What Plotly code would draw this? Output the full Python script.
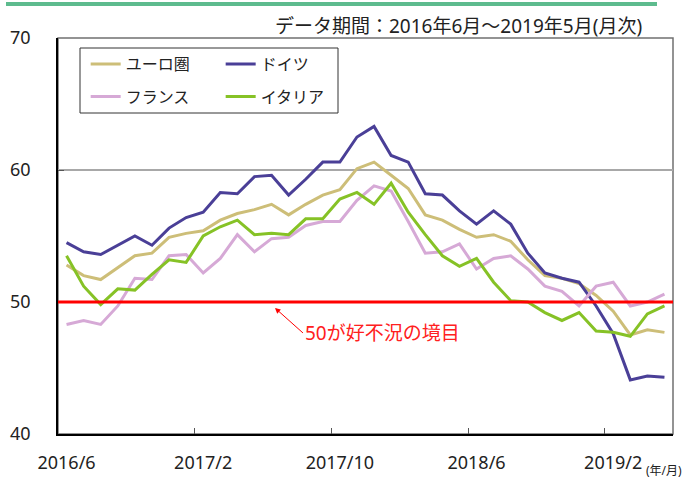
import plotly.graph_objects as go

months = ["2016/6","2016/7","2016/8","2016/9","2016/10","2016/11","2016/12",
          "2017/1","2017/2","2017/3","2017/4","2017/5","2017/6","2017/7","2017/8","2017/9","2017/10","2017/11","2017/12",
          "2018/1","2018/2","2018/3","2018/4","2018/5","2018/6","2018/7","2018/8","2018/9","2018/10","2018/11","2018/12",
          "2019/1","2019/2","2019/3","2019/4","2019/5"]

eurozone = [52.8, 52.0, 51.7, 52.6, 53.5, 53.7, 54.9, 55.2, 55.4, 56.2, 56.7, 57.0,
            57.4, 56.6, 57.4, 58.1, 58.5, 60.1, 60.6, 59.6, 58.6, 56.6, 56.2, 55.5,
            54.9, 55.1, 54.6, 53.2, 52.0, 51.8, 51.4, 50.5, 49.3, 47.5, 47.9, 47.7]
germany = [54.5, 53.8, 53.6, 54.3, 55.0, 54.3, 55.6, 56.4, 56.8, 58.3, 58.2, 59.5,
           59.6, 58.1, 59.3, 60.6, 60.6, 62.5, 63.3, 61.1, 60.6, 58.2, 58.1, 56.9,
           55.9, 56.9, 55.9, 53.7, 52.2, 51.8, 51.5, 49.7, 47.6, 44.1, 44.4, 44.3]
france = [48.3, 48.6, 48.3, 49.7, 51.8, 51.7, 53.5, 53.6, 52.2, 53.3, 55.1, 53.8,
          54.8, 54.9, 55.8, 56.1, 56.1, 57.7, 58.8, 58.4, 56.1, 53.7, 53.8, 54.4,
          52.5, 53.3, 53.5, 52.5, 51.2, 50.8, 49.7, 51.2, 51.5, 49.7, 50.0, 50.6]
italy = [53.5, 51.2, 49.8, 51.0, 50.9, 52.1, 53.2, 53.0, 55.0, 55.7, 56.2, 55.1,
         55.2, 55.1, 56.3, 56.3, 57.8, 58.3, 57.4, 59.0, 56.8, 55.1, 53.5, 52.7,
         53.3, 51.5, 50.1, 50.0, 49.2, 48.6, 49.2, 47.8, 47.7, 47.4, 49.1, 49.7]

series_names = ["ユーロ圏", "ドイツ", "フランス", "イタリア"]
series_colors = ["#CDBE78", "#4A3F97", "#D6A9D6", "#86C226"]
series_values = [eurozone, germany, france, italy]
series_legend = ["legend", "legend", "legend2", "legend2"]

threshold = 50
y_ticks = [40, 50, 60, 70]
x_label_every = 8
title_text = "データ期間：2016年6月～2019年5月(月次)"
note_text = "50が好不況の境目"
unit_text = "(年/月)"

FONT = "Noto Sans, Noto Sans CJK JP, sans-serif"
n = len(months)
xs = list(range(n))

fig = go.Figure()
for name, col, vals, lg in zip(series_names, series_colors, series_values, series_legend):
    fig.add_trace(go.Scatter(x=xs, y=vals, mode="lines", name=name,
                             line=dict(color=col, width=3), legend=lg))

# invisible trace on secondary x axis to carry boundary tick marks
fig.add_trace(go.Scatter(x=[xs[0]], y=[threshold], xaxis="x2", mode="markers",
                         marker=dict(opacity=0), showlegend=False, hoverinfo="skip"))

label_idx = list(range(0, n, x_label_every))
boundary_ticks = [i - 0.5 for i in label_idx[1:]]

fig.update_layout(
    width=685, height=481,
    margin=dict(l=58, r=12, t=38, b=47, autoexpand=False),
    paper_bgcolor="white", plot_bgcolor="white",
    font=dict(family=FONT, size=18, color="#222"),
    showlegend=True,
    xaxis=dict(range=[-0.5, n - 0.5], tickvals=label_idx,
               ticktext=[months[i] for i in label_idx],
               ticks="", showgrid=False, zeroline=False, automargin=False,
               showline=True, linecolor="black", linewidth=1.5,
               ticklabelstandoff=12, tickfont=dict(size=18, color="#222")),
    xaxis2=dict(range=[-0.5, n - 0.5], overlaying="x", side="bottom",
                tickvals=boundary_ticks, ticks="inside", ticklen=6,
                tickcolor="#555", tickwidth=1, showticklabels=False, automargin=False,
                showgrid=False, zeroline=False, showline=False, anchor="y"),
    yaxis=dict(range=[y_ticks[0], y_ticks[-1]], tickvals=y_ticks,
               ticks="inside", ticklen=6, tickcolor="#555", automargin=False,
               showgrid=True, gridcolor="#A8A8A8", gridwidth=1.5,
               zeroline=False, showline=True, linecolor="black", linewidth=1.5,
               ticklabelstandoff=22, tickfont=dict(size=18, color="#222")),
    legend=dict(orientation="h", x=0.045, y=0.934, xanchor="left", yanchor="middle",
                bgcolor="rgba(0,0,0,0)", borderwidth=0, entrywidth=90,
                font=dict(size=16, color="#222"), itemclick=False),
    legend2=dict(orientation="h", x=0.045, y=0.852, xanchor="left", yanchor="middle",
                 bgcolor="rgba(0,0,0,0)", borderwidth=0, entrywidth=90,
                 font=dict(size=16, color="#222"), itemclick=False),
    shapes=[
        dict(type="rect", xref="paper", yref="paper", x0=0, x1=1, y0=0, y1=1,
             line=dict(color="#707070", width=1.5), layer="below"),
        dict(type="line", xref="paper", yref="y", x0=0, x1=1, y0=threshold, y1=threshold,
             line=dict(color="#FF0000", width=3)),
        dict(type="rect", xref="paper", yref="paper",
             x0=(80 - 58) / 615, x1=(338 - 58) / 615,
             y0=(434 - 113) / 396, y1=(434 - 48) / 396,
             line=dict(color="#333", width=1), layer="above"),
        dict(type="line", xref="paper", yref="paper",
             x0=(6 - 58) / 615, x1=(657 - 58) / 615,
             y0=(434 - 4) / 396, y1=(434 - 4) / 396,
             line=dict(color="#5DBB8E", width=4)),
    ],
    annotations=[
        dict(text=title_text, xref="paper", yref="paper",
             x=(644 - 58) / 615, y=(434 - 26) / 396, xanchor="right", yanchor="middle",
             showarrow=False, font=dict(size=19, color="#222")),
        dict(text=note_text, xref="x", yref="y", x=12.2, y=49.55,
             ax=28, ay=25, xanchor="left", yanchor="middle",
             showarrow=True, arrowhead=2, arrowsize=1.1, arrowwidth=1,
             arrowcolor="#FF0000", standoff=0,
             font=dict(size=19, color="#FF2020")),
        dict(text=unit_text, xref="paper", yref="paper",
             x=(684 - 58) / 615, y=(434 - 481) / 396, xanchor="right", yanchor="bottom",
             showarrow=False, font=dict(size=12, color="#222")),
    ],
)

fig.write_html("out.html", config={"displayModeBar": False},
               post_script="document.body.style.margin='0';document.body.style.overflow='hidden';")
